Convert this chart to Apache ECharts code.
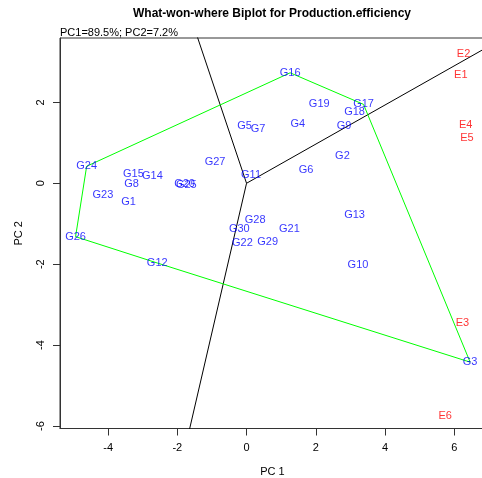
<!DOCTYPE html>
<html>
<head>
<meta charset="utf-8">
<script src="https://cdn.jsdelivr.net/npm/echarts@6/dist/echarts.min.js"></script>
<style>html,body{margin:0;padding:0;background:#fff;}#c{width:482px;height:478px;}</style>
</head>
<body>
<div id="c"></div>
<script>
// Genotype scores (PC1, PC2)
var genoNames = ['G1','G2','G3','G4','G5','G6','G7','G8','G9','G10','G11','G12','G13','G14','G15','G16','G17','G18','G19','G20','G21','G22','G23','G24','G25','G26','G27','G28','G29','G30'];
var genoX = [-3.41, 2.77, 6.46, 1.48, -0.06, 1.72, 0.33, -3.32, 2.82, 3.22, 0.13, -2.58, 3.12, -2.72, -3.27, 1.26, 3.38, 3.12, 2.10, -1.79, 1.24, -0.12, -4.15, -4.62, -1.74, -4.94, -0.91, 0.25, 0.61, -0.21];
var genoY = [-0.45, 0.68, -4.42, 1.46, 1.42, 0.33, 1.34, -0.02, 1.41, -2.02, 0.21, -1.97, -0.79, 0.17, 0.22, 2.73, 1.95, 1.75, 1.96, -0.01, -1.13, -1.47, -0.30, 0.42, -0.03, -1.32, 0.53, -0.90, -1.46, -1.12];
// Environment scores
var envNames = ['E1','E2','E3','E4','E5','E6'];
var envX = [6.19, 6.27, 6.24, 6.33, 6.37, 5.74];
var envY = [2.68, 3.19, -3.46, 1.45, 1.13, -5.75];
// Convex hull vertices (in order)
var hullOrder = ['G24','G16','G17','G3','G12','G26'];
// Hull edges whose perpendicular rays are drawn (pairs of vertices)
var rayEdges = [['G24','G16'], ['G17','G3'], ['G12','G3']];
// Axis ticks
var xTicks = [-4, -2, 0, 2, 4, 6];
var yTicks = [-6, -4, -2, 0, 2];
var titleText = 'What-won-where Biplot for Production.efficiency';
var subText = 'PC1=89.5%; PC2=7.2%';

function pt(name){ var i = genoNames.indexOf(name); return [genoX[i], genoY[i]]; }
var hull = hullOrder.map(pt); hull.push(pt(hullOrder[0]));

var rayLines = rayEdges.map(function(e){
  var a = pt(e[0]), b = pt(e[1]);
  var dx = b[0]-a[0], dy = b[1]-a[1];
  var nx = -dy, ny = dx;
  var len = Math.sqrt(nx*nx+ny*ny); nx/=len; ny/=len;
  if (nx*a[0]+ny*a[1] < 0) { nx=-nx; ny=-ny; }
  return [[0,0],[nx*30, ny*30]];
});

var font = 'Liberation Sans, Arial, Helvetica, sans-serif';
var series = [];
rayLines.forEach(function(l){
  series.push({type:'line', data:l, symbol:'none', clip:true, silent:true,
    lineStyle:{color:'#000', width:1}, z:2});
});
series.push({type:'line', data:hull, symbol:'none', clip:true, silent:true,
  lineStyle:{color:'#00ff00', width:1}, z:3});
function labelSeries(names, xs, ys, color){
  return {type:'scatter', symbolSize:1, silent:true, z:5,
    itemStyle:{color:'rgba(0,0,0,0)'},
    data: names.map(function(n,i){ return {name:n, value:[xs[i], ys[i]]}; }),
    label:{show:true, position:'inside', formatter:'{b}', color:color, fontSize:11, fontFamily:font, align:'center', verticalAlign:'middle'},
    labelLayout:{hideOverlap:false}};
}
series.push(labelSeries(genoNames, genoX, genoY, '#0000ff'));
series.push(labelSeries(envNames, envX, envY, '#ff0000'));

var chart = echarts.init(document.getElementById('c'));
chart.setOption({
  animation:false,
  backgroundColor:'#fff',
  title:[
    {text:titleText, left:272, top:8, padding:0, textAlign:'center', textStyle:{fontSize:12, fontWeight:'bold', color:'#000', fontFamily:font}},
    {text:subText, left:60, top:27, padding:0, textStyle:{fontSize:11, fontWeight:'normal', color:'#000', fontFamily:font}}
  ],
  grid:{left:60, right:-3, top:38, bottom:49.5, containLabel:false, outerBoundsMode:'none', show:true, borderColor:'#333', borderWidth:1, backgroundColor:'transparent'},
  xAxis:{type:'value', min:-5.39, max:6.89, name:'PC 1', nameLocation:'middle', nameGap:38,
    nameTextStyle:{fontSize:11, color:'#000', fontFamily:font},
    axisLine:{show:true, onZero:false, lineStyle:{color:'#333'}},
    axisTick:{show:true, length:7, inside:false, customValues:xTicks, lineStyle:{color:'#333'}},
    axisLabel:{customValues:xTicks, fontSize:11, color:'#000', fontFamily:font, margin:14, showMinLabel:true, showMaxLabel:true},
    splitLine:{show:false}},
  yAxis:{type:'value', min:-6.06, max:3.59, name:'PC 2', nameLocation:'middle', nameGap:36,
    nameTextStyle:{fontSize:11, color:'#000', fontFamily:font},
    axisLine:{show:true, onZero:false, lineStyle:{color:'#333'}},
    axisTick:{show:true, length:7, inside:false, customValues:yTicks, lineStyle:{color:'#333'}},
    axisLabel:{customValues:yTicks, rotate:90, fontSize:11, color:'#000', fontFamily:font, margin:14},
    splitLine:{show:false}},
  series:series
});
</script>
</body>
</html>
